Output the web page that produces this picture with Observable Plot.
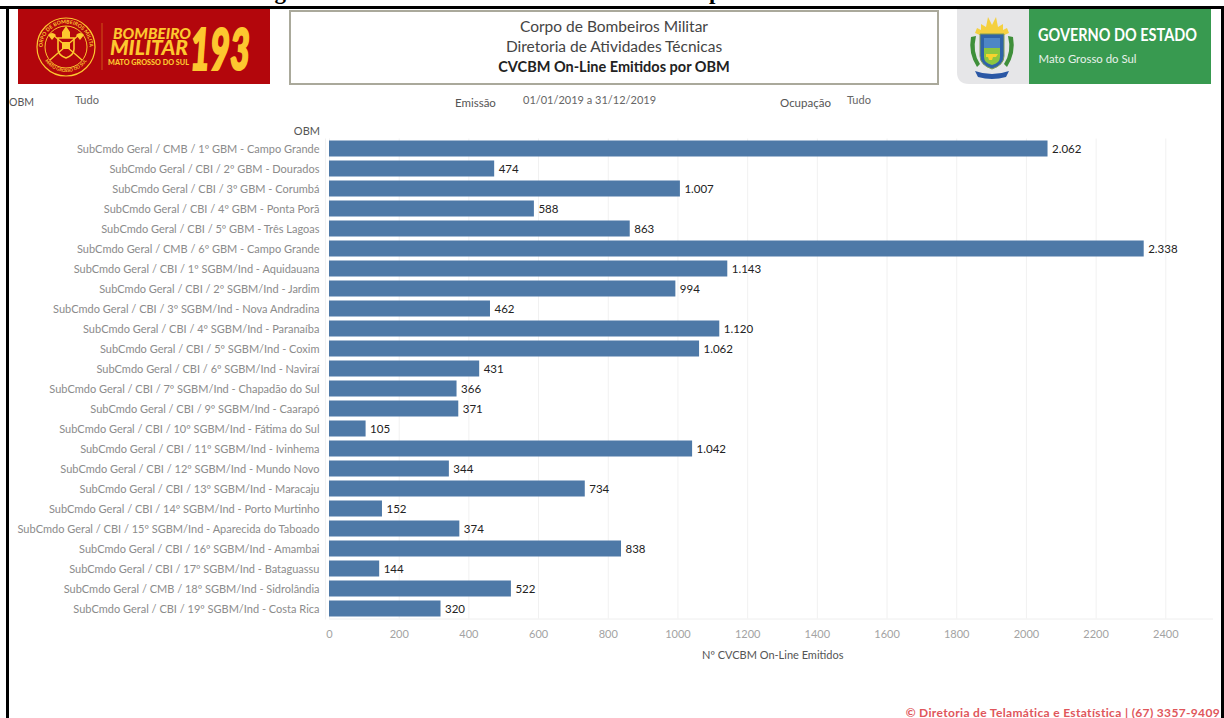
<!DOCTYPE html>
<html lang="pt-BR">
<head>
<meta charset="utf-8">
<title>CVCBM On-Line Emitidos por OBM</title>
<script src="https://cdn.jsdelivr.net/npm/d3@7"></script>
<script src="https://cdn.jsdelivr.net/npm/@observablehq/plot@0.6"></script>
<style>
  html, body { margin: 0; padding: 0; background: #fff; }
  body { width: 1224px; height: 718px; overflow: hidden; position: relative; font-family: Lato, sans-serif; }
  .abs { position: absolute; white-space: nowrap; line-height: 1; }
  #chart { position: absolute; left: 0; top: 0; }
  .edge { position: absolute; background: #000; }
  .filter-label { font-size: 11.5px; color: #555; }
  .filter-value { font-size: 11px; color: #666; }
  #doc-title { left: 254px; top: -20px; font: bold 23px/24px "Liberation Serif", serif; color: #000; }
  #head-box { left: 289px; top: 10px; width: 646px; height: 71px; border: 2px solid #aaa99b; }
  .head-line { left: 289px; width: 650px; text-align: center; font-size: 15.5px; color: #444; }
</style>
</head>
<body>
<div class="abs" id="doc-title">Figura 27: Número total de CVCBM emitidos por unidade do CBMMS</div>
<div class="edge" style="left:0;top:6px;width:1224px;height:3px"></div>
<div class="edge" style="left:6px;top:6px;width:3px;height:712px"></div>
<div class="edge" style="left:1221px;top:6px;width:3px;height:712px"></div>

<!-- Corporation banner -->
<svg class="abs" style="left:18px;top:9px" width="252" height="75" viewBox="18 9 252 75">
  <rect x="18" y="9" width="252" height="75" fill="#b3060c"/>
  <g fill="none" stroke="#fdc82f">
    <circle cx="66" cy="47" r="29" stroke-width="1.2"/>
    <circle cx="66" cy="47" r="21" stroke-width="1"/>
  </g>
  <defs>
    <path id="crest-top" d="M42.5 47a23.5 23.5 0 0 1 47 0"/>
    <path id="crest-bottom" d="M41 47a25 25 0 0 0 50 0"/>
  </defs>
  <text font-size="5.2" font-weight="700" fill="#fdc82f" font-family="Lato"><textPath href="#crest-top" startOffset="50%" text-anchor="middle">CORPO DE BOMBEIROS MILITAR</textPath></text>
  <text font-size="4.4" font-weight="700" fill="#fdc82f" font-family="Lato"><textPath href="#crest-bottom" startOffset="50%" text-anchor="middle">MATO GROSSO DO SUL</textPath></text>
  <path d="M58 38h16v11q0 6-8 9q-8-3-8-9z" fill="none" stroke="#fdc82f" stroke-width="1.6"/>
  <path d="M62 32l4-6l4 6v6h-8z" fill="#fdc82f"/>
  <path d="M62 42h8v7h-8z" fill="#fdc82f"/>
  <path d="M50 60L80 34M82 60L52 34" stroke="#fdc82f" stroke-width="1.4"/>
  <path d="M48 35q4-4 8 0l-4 5zM84 35q-4-4-8 0l4 5z" fill="#fdc82f"/>
  <line x1="102" y1="23" x2="102" y2="70" stroke="#d4691a" stroke-width="0.8"/>
  <g fill="#fdc82f" font-family="Lato" font-weight="900" font-style="italic">
    <text x="113" y="39" font-size="15" textLength="78" lengthAdjust="spacingAndGlyphs">BOMBEIRO</text>
    <text x="110" y="55" font-size="20" textLength="78" lengthAdjust="spacingAndGlyphs">MILITAR</text>
    <text x="108" y="65" font-size="7.5" font-style="normal" textLength="81" lengthAdjust="spacingAndGlyphs">MATO GROSSO DO SUL</text>
    <text x="190" y="70" font-size="58" textLength="60" lengthAdjust="spacingAndGlyphs" stroke="#fdc82f" stroke-width="2.2">193</text>
  </g>
</svg>

<!-- Report heading -->
<div class="abs" id="head-box"></div>
<div class="abs head-line" style="top:19px">Corpo de Bombeiros Militar</div>
<div class="abs head-line" style="top:39px">Diretoria de Atividades Técnicas</div>
<div class="abs head-line" style="top:60px;color:#222;font-size:14.5px;font-weight:700">CVCBM On-Line Emitidos por OBM</div>

<!-- State government banner -->
<svg class="abs" style="left:957px;top:9px" width="254" height="75" viewBox="957 9 254 75">
  <path d="M957 9h72v75h-60q-12 0-12-12z" fill="#e6e6e8"/>
  <rect x="1029" y="9" width="182" height="75" fill="#389a50"/>
  <path d="M992 40L975 33l2-5l4 2l0-6l5 3l2-10l4 8l4-8l2 10l5-3l0 6l4-2l2 5z" fill="#f4d03f"/>
  <path d="M976 36q-4 16 4 28l-3 3q-9-14-6-30zM1008 36q4 16-4 28l3 3q9-14 6-30z" fill="#3f8f3a"/>
  <path d="M980 34h24v22q0 9-12 13q-12-4-12-13z" fill="#2f63a8" stroke="#7f9c55" stroke-width="1"/>
  <rect x="984" y="38" width="16" height="10" fill="#4d86c6"/>
  <path d="M984 48h16v9q0 6-8 8q-8-2-8-8z" fill="#8cc63f"/>
  <path d="M986 54h12l-2 3h-3l-1 3h-3l-1-3h-2z" fill="#f6d32d"/>
  <path d="M975 71q8 3 17 3t17-3l-3 6q-7 2-14 2t-14-2z" fill="#2a57a5"/>
  <text x="1038" y="41" font-family="Lato" font-size="16.5" font-weight="700" fill="#fff" textLength="159" lengthAdjust="spacingAndGlyphs">GOVERNO DO ESTADO</text>
  <text x="1038.5" y="63" font-family="Lato" font-size="12" fill="#e8f1ea" textLength="98" lengthAdjust="spacingAndGlyphs">Mato Grosso do Sul</text>
</svg>

<!-- Filter summary -->
<div class="abs filter-label" style="left:9px;top:97px;font-size:10.5px">OBM</div>
<div class="abs filter-value" style="left:75px;top:94px">Tudo</div>
<div class="abs filter-label" style="left:455px;top:97px">Emissão</div>
<div class="abs filter-value" style="left:523px;top:94px">01/01/2019 a 31/12/2019</div>
<div class="abs filter-label" style="left:780px;top:97px">Ocupação</div>
<div class="abs filter-value" style="left:847px;top:94px">Tudo</div>

<div id="chart"></div>

<div class="abs" style="right:4px;top:707px;font-size:12px;font-weight:700;color:#e0565b;letter-spacing:0.34px">© Diretoria de Telamática e Estatística | (67) 3357-9409</div>

<script>
// Certificates issued per fire brigade unit during 2019
const units = [
  "SubCmdo Geral / CMB / 1º GBM - Campo Grande",
  "SubCmdo Geral / CBI / 2º GBM - Dourados",
  "SubCmdo Geral / CBI / 3º GBM - Corumbá",
  "SubCmdo Geral / CBI / 4º GBM - Ponta Porã",
  "SubCmdo Geral / CBI / 5º GBM - Três Lagoas",
  "SubCmdo Geral / CMB / 6º GBM - Campo Grande",
  "SubCmdo Geral / CBI / 1º SGBM/Ind - Aquidauana",
  "SubCmdo Geral / CBI / 2º SGBM/Ind - Jardim",
  "SubCmdo Geral / CBI / 3º SGBM/Ind - Nova Andradina",
  "SubCmdo Geral / CBI / 4º SGBM/Ind - Paranaíba",
  "SubCmdo Geral / CBI / 5º SGBM/Ind - Coxim",
  "SubCmdo Geral / CBI / 6º SGBM/Ind - Naviraí",
  "SubCmdo Geral / CBI / 7º SGBM/Ind - Chapadão do Sul",
  "SubCmdo Geral / CBI / 9º SGBM/Ind - Caarapó",
  "SubCmdo Geral / CBI / 10º SGBM/Ind - Fátima do Sul",
  "SubCmdo Geral / CBI / 11º SGBM/Ind - Ivinhema",
  "SubCmdo Geral / CBI / 12º SGBM/Ind - Mundo Novo",
  "SubCmdo Geral / CBI / 13º SGBM/Ind - Maracaju",
  "SubCmdo Geral / CBI / 14º SGBM/Ind - Porto Murtinho",
  "SubCmdo Geral / CBI / 15º SGBM/Ind - Aparecida do Taboado",
  "SubCmdo Geral / CBI / 16º SGBM/Ind - Amambai",
  "SubCmdo Geral / CBI / 17º SGBM/Ind - Bataguassu",
  "SubCmdo Geral / CMB / 18º SGBM/Ind - Sidrolândia",
  "SubCmdo Geral / CBI / 19º SGBM/Ind - Costa Rica"
];
const issued = [2062, 474, 1007, 588, 863, 2338, 1143, 994, 462, 1120, 1062, 431,
                366, 371, 105, 1042, 344, 734, 152, 374, 838, 144, 522, 320];
const xTicks = [0, 200, 400, 600, 800, 1000, 1200, 1400, 1600, 1800, 2000, 2200, 2400];

const rows = units.map((unit, i) => ({unit, value: issued[i]}));
const ptBR = d3.formatLocale({decimal: ",", thousands: ".", grouping: [3], currency: ["R$", ""]});
const formatCount = ptBR.format(",d");

const chart = Plot.plot({
  width: 1224,
  height: 718,
  marginLeft: 329,
  marginRight: 12,
  marginTop: 138.5,
  marginBottom: 99.5,
  style: {fontFamily: "Lato, sans-serif", background: "transparent", overflow: "visible"},
  x: {domain: [0, 2534], label: null},
  y: {domain: units, paddingInner: 0.2, paddingOuter: 0.1, round: false, label: null},
  marks: [
    Plot.gridX(xTicks, {stroke: "#f1f1f1", strokeOpacity: 1}),
    Plot.frame({anchor: "bottom", stroke: "#eeeeee"}),
    Plot.frame({anchor: "left", stroke: "#f1f1f1", dx: -4}),
    Plot.barX(rows, {x: "value", y: "unit", fill: "#4e79a7"}),
    Plot.text(rows, {
      x: "value", y: "unit", text: d => formatCount(d.value),
      textAnchor: "start", dx: 4, fontSize: 11.5, fill: "#222222"
    }),
    Plot.axisY({tickSize: 0, tickPadding: 10, fontSize: 11, color: "#8b8b8b", label: null}),
    Plot.axisX({
      ticks: xTicks, tickFormat: "d", tickSize: 0, tickPadding: 11,
      fontSize: 11, color: "#a3a3a3", label: null
    })
  ]
});
document.getElementById("chart").append(chart);

// Headers that Tableau sets beside the axes
const axisTitle = (text, style) => {
  const el = document.createElement("div");
  el.className = "abs";
  el.textContent = text;
  el.style.cssText = style;
  document.body.append(el);
};
axisTitle("OBM", "right:904px;top:124.5px;font-size:11px;color:#555");
axisTitle("Nº CVCBM On-Line Emitidos", "left:702px;top:649px;font-size:11px;color:#555");
</script>
</body>
</html>
